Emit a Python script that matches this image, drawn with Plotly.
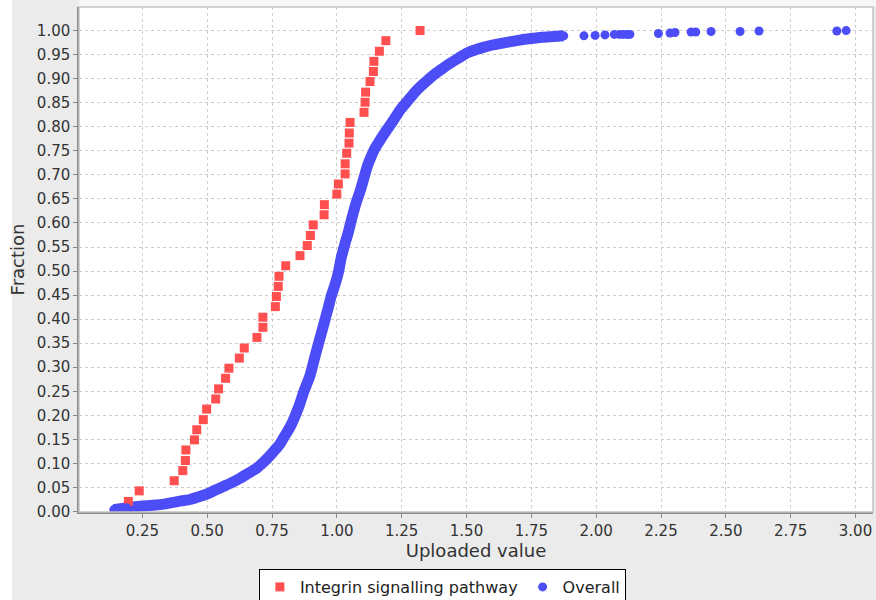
import plotly.graph_objects as go

# Integrin signalling pathway (red squares)
integrin_x = [0.196, 0.238, 0.373, 0.406, 0.416, 0.418, 0.451, 0.460, 0.485, 0.498,
              0.533, 0.544, 0.571, 0.584, 0.624, 0.643, 0.692, 0.715, 0.715, 0.763,
              0.767, 0.774, 0.777, 0.803, 0.858, 0.886, 0.898, 0.909, 0.951, 0.952,
              1.000, 1.006, 1.032, 1.032, 1.038, 1.047, 1.048, 1.051, 1.105, 1.109,
              1.111, 1.128, 1.141, 1.143, 1.164, 1.189, 1.321]
integrin_y = [0.021, 0.043, 0.064, 0.085, 0.106, 0.128, 0.149, 0.170, 0.191, 0.213,
              0.234, 0.255, 0.277, 0.298, 0.319, 0.340, 0.362, 0.383, 0.404, 0.426,
              0.447, 0.468, 0.489, 0.511, 0.532, 0.553, 0.574, 0.596, 0.617, 0.638,
              0.660, 0.681, 0.702, 0.723, 0.745, 0.766, 0.787, 0.809, 0.830, 0.851,
              0.872, 0.894, 0.915, 0.936, 0.957, 0.979, 1.000]

# Overall (blue dots) - dense part of the curve
overall_x = [0.140, 0.190, 0.240, 0.290, 0.340, 0.370, 0.400, 0.434, 0.465, 0.498,
             0.530, 0.562, 0.595, 0.627, 0.660, 0.691, 0.712, 0.735, 0.755, 0.780,
             0.800, 0.820, 0.840, 0.858, 0.873, 0.895, 0.910, 0.926, 0.945, 0.968,
             0.978, 0.992, 1.005, 1.018, 1.032, 1.043, 1.058, 1.074, 1.092, 1.108,
             1.117, 1.130, 1.147, 1.170, 1.192, 1.220, 1.244, 1.275, 1.308, 1.340,
             1.372, 1.405, 1.437, 1.470, 1.501, 1.535, 1.565, 1.600, 1.629, 1.660,
             1.694, 1.725, 1.758, 1.790, 1.822, 1.850, 1.875]
overall_y = [0.004, 0.008, 0.011, 0.013, 0.016, 0.019, 0.022, 0.025, 0.030, 0.036,
             0.044, 0.052, 0.060, 0.069, 0.080, 0.090, 0.100, 0.112, 0.124, 0.140,
             0.158, 0.176, 0.200, 0.225, 0.250, 0.280, 0.310, 0.343, 0.380, 0.426,
             0.447, 0.470, 0.495, 0.530, 0.558, 0.578, 0.610, 0.641, 0.670, 0.700,
             0.717, 0.735, 0.755, 0.775, 0.793, 0.815, 0.835, 0.855, 0.876, 0.892,
             0.907, 0.920, 0.932, 0.943, 0.953, 0.960, 0.965, 0.970, 0.973, 0.976,
             0.979, 0.982, 0.984, 0.986, 0.987, 0.988, 0.989]
# Overall - isolated high values
overall_tail_x = [1.953, 1.996, 2.034, 2.070, 2.090, 2.105, 2.120, 2.130, 2.240, 2.285,
                  2.304, 2.366, 2.384, 2.443, 2.555, 2.628, 2.928, 2.964]
overall_tail_y = [0.989, 0.990, 0.991, 0.992, 0.992, 0.992, 0.992, 0.992, 0.994, 0.995,
                  0.996, 0.997, 0.997, 0.998, 0.998, 0.999, 0.999, 1.000]

RED = "#ff4f4f"
BLUE = "#4d4df7"
FONT = "DejaVu Sans"

fig = go.Figure()

# dense band of the overall distribution
fig.add_trace(go.Scatter(
    x=overall_x, y=overall_y, mode="lines",
    line=dict(color=BLUE, width=11, shape="spline", smoothing=0.6),
    showlegend=False, hoverinfo="skip", cliponaxis=True))

fig.add_trace(go.Scatter(
    x=integrin_x, y=integrin_y, mode="markers", name="Integrin signalling pathway",
    marker=dict(symbol="square", size=9, color=RED), cliponaxis=True))

fig.add_trace(go.Scatter(
    x=overall_x + overall_tail_x, y=overall_y + overall_tail_y, mode="markers",
    name="Overall", marker=dict(symbol="circle", size=9, color=BLUE), cliponaxis=True))

L, R, T, B = 79, 3, 7, 88
W, H = 876, 600
pw, ph = W - L - R, H - T - B

shapes = [
    # white strip on the far left
    dict(type="rect", xref="paper", yref="paper",
         x0=-L / pw, x1=(12 - L) / pw, y0=-B / ph, y1=(ph + T) / ph,
         fillcolor="white", line=dict(width=0), layer="above"),
    # light strip above plot area
    dict(type="rect", xref="paper", yref="paper",
         x0=0, x1=(pw + R) / pw, y0=1, y1=(ph + T) / ph,
         fillcolor="#f7f7f7", line=dict(width=0), layer="above"),
    # plot outline
    dict(type="rect", xref="paper", yref="paper", x0=0, x1=1, y0=0, y1=1,
         line=dict(color="#c4c4c4", width=1.5), layer="above"),
]

fig.update_layout(
    width=W, height=H,
    margin=dict(l=L, r=R, t=T, b=B, pad=0, autoexpand=False),
    paper_bgcolor="#ebebeb", plot_bgcolor="white",
    font=dict(family=FONT, color="#333333"),
    shapes=shapes,
    legend=dict(
        orientation="h", xref="container", yref="container",
        x=0.505, xanchor="center", y=1 - 569 / 600, yanchor="top",
        bgcolor="white", bordercolor="black", borderwidth=1,
        font=dict(family=FONT, size=16, color="#222222"),
        itemwidth=30, tracegroupgap=0,
    ),
    xaxis=dict(
        range=[0.0058, 3.0675], tick0=0, dtick=0.25, tickformat=".2f",
        automargin=False,
        showgrid=True, gridcolor="#cdcdcd", griddash="dot", gridwidth=1,
        zeroline=False, showline=True, linecolor="#8a8a8a", linewidth=1.5,
        ticks="outside", ticklen=4, tickcolor="#8a8a8a",
        tickfont=dict(family=FONT, size=15, color="#333333"),
        title=dict(text="Uploaded value", standoff=6,
                   font=dict(family=FONT, size=18, color="#333333")),
    ),
    yaxis=dict(
        range=[-0.001, 1.049], tick0=0, dtick=0.05, tickformat=".2f",
        automargin=False,
        showgrid=True, gridcolor="#cdcdcd", griddash="dot", gridwidth=1,
        zeroline=False, showline=True, linecolor="#8a8a8a", linewidth=1.5,
        ticks="outside", ticklen=4, tickcolor="#8a8a8a",
        tickfont=dict(family=FONT, size=15, color="#333333"),
        title=dict(text="Fraction", standoff=8,
                   font=dict(family=FONT, size=18, color="#333333")),
    ),
)

fig.write_html("out.html", config={"displayModeBar": False},
               post_script="document.body.style.margin='0';document.body.style.overflow='hidden';")
